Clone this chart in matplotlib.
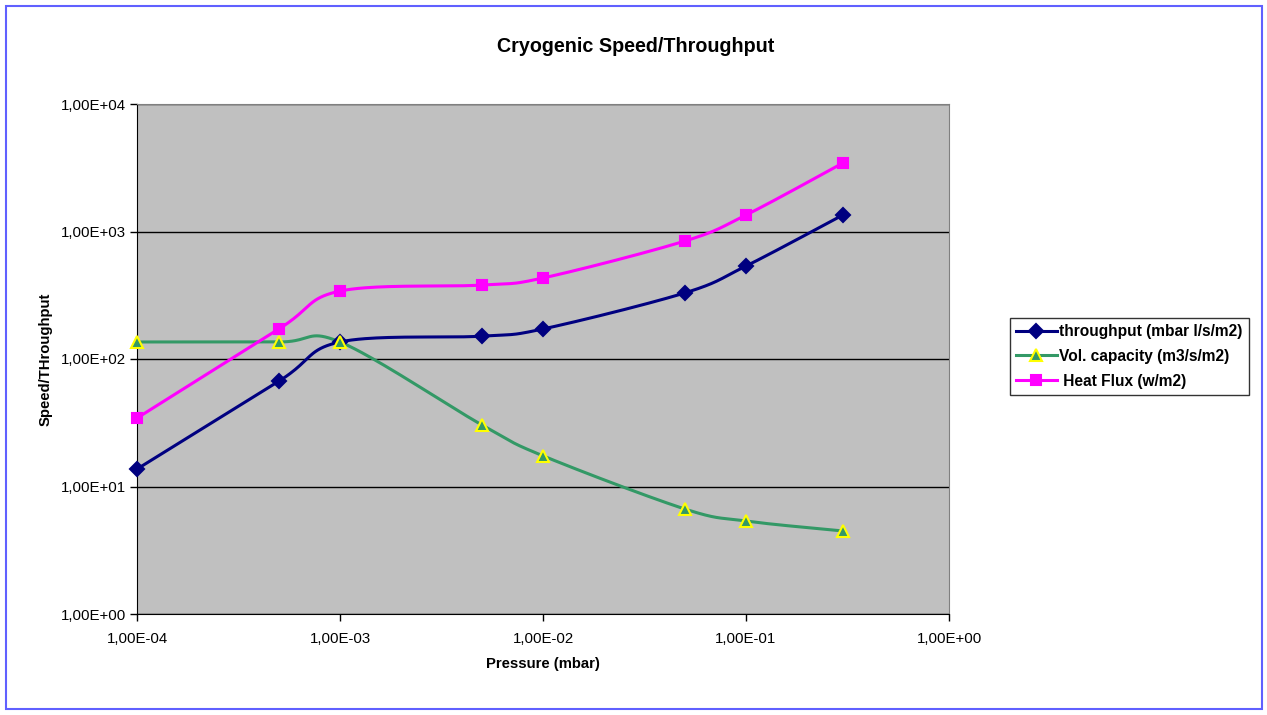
import numpy as np
from matplotlib import pyplot as plt
from matplotlib.lines import Line2D
from matplotlib.patches import Rectangle

# data
pressure = [1e-4, 5e-4, 1e-3, 5e-3, 1e-2, 5e-2, 1e-1, 3e-1]
throughput = [13.7, 67, 136, 151, 172, 330, 536, 1347]
vol_capacity = [136, 136, 136, 30.4, 17.4, 6.66, 5.36, 4.48]
heat_flux = [34.4, 172, 341, 380, 432, 842, 1347, 3445]

x_ticks = [1e-4, 1e-3, 1e-2, 1e-1, 1e0]
x_labels = ["1,00E-04", "1,00E-03", "1,00E-02", "1,00E-01", "1,00E+00"]
y_ticks = [1e0, 1e1, 1e2, 1e3, 1e4]
y_labels = ["1,00E+00", "1,00E+01", "1,00E+02", "1,00E+03", "1,00E+04"]


def smooth(xs, ys, n=40):
    # catmull-rom through the points in log-log space (like Excel's smoothed line)
    lx = np.log10(xs)
    ly = np.log10(ys)
    px = np.concatenate([[lx[0]], lx, [lx[-1]]])
    py = np.concatenate([[ly[0]], ly, [ly[-1]]])
    out_x, out_y = [], []
    t = np.linspace(0, 1, n)
    for i in range(1, len(px) - 2):
        p0, p1, p2, p3 = [np.array([px[j], py[j]]) for j in range(i - 1, i + 3)]
        c1 = p1 + (p2 - p0) / 6
        c2 = p2 - (p3 - p1) / 6
        for tt in t:
            pt = ((1 - tt) ** 3 * p1 + 3 * (1 - tt) ** 2 * tt * c1
                  + 3 * (1 - tt) * tt ** 2 * c2 + tt ** 3 * p2)
            out_x.append(pt[0])
            out_y.append(pt[1])
    return 10 ** np.array(out_x), 10 ** np.array(out_y)


plt.rcParams["font.family"] = ["Liberation Sans", "DejaVu Sans"]

fig = plt.figure(figsize=(12.67, 7.15), dpi=100)
ax = fig.add_axes([137 / 1267, 101 / 715, 812 / 1267, 510 / 715])
ax.set_facecolor("#c0c0c0")

series = [
    (throughput, "#000080", "D", "#000080", "#000080", 7, "throughput (mbar l/s/m2)"),
    (vol_capacity, "#339966", "^", "#339966", "#ffff00", 8, "Vol. capacity (m3/s/m2)"),
    (heat_flux, "#ff00ff", "s", "#ff00ff", "#ff00ff", 7.5, " Heat Flux (w/m2)"),
]

handles = []
for ys, col, mk, fc, ec, ms, lab in series:
    sx, sy = smooth(pressure, ys)
    ax.plot(sx, sy, color=col, lw=2.2, zorder=3)
    ax.plot(pressure, ys, linestyle="none", marker=mk, markersize=ms,
            markerfacecolor=fc, markeredgecolor=ec, markeredgewidth=1.5,
            zorder=4, clip_on=False)
    handles.append(Line2D([], [], color=col, lw=2.2, marker=mk, markersize=ms,
                          markerfacecolor=fc, markeredgecolor=ec, markeredgewidth=1.5))

ax.set_xscale("log")
ax.set_yscale("log")
ax.set_xlim(1e-4, 1e0)
ax.set_ylim(1e0, 1e4)
ax.set_xticks(x_ticks)
ax.set_xticklabels(x_labels)
ax.set_yticks(y_ticks)
ax.set_yticklabels(y_labels)
ax.minorticks_off()
ax.tick_params(direction="out", length=5, width=1, labelsize=10.8)
ax.tick_params(axis="x", pad=8)
ax.tick_params(axis="y", pad=3)
ax.yaxis.grid(True, color="black", lw=1)
ax.set_axisbelow(True)

for s in ["top", "right"]:
    ax.spines[s].set_color("#808080")
for s in ["left", "bottom"]:
    ax.spines[s].set_color("black")

fig.text(636 / 1267, 1 - 46 / 715, "Cryogenic Speed/Throughput", fontsize=14.2,
         fontweight="bold", ha="center", va="center")
ax.set_xlabel("Pressure (mbar)", fontsize=10.7, fontweight="bold", labelpad=8)
ax.set_ylabel("Speed/THroughput", fontsize=10.7, fontweight="bold", labelpad=5.5)

leg = fig.legend(handles=handles, labels=[s[-1] for s in series],
                 loc="upper left", bbox_to_anchor=(1010 / 1267, 1 - 318 / 715),
                 prop={"weight": "bold", "size": 11.2}, frameon=True, fancybox=False,
                 edgecolor="black", handlelength=2.6, handletextpad=0.15,
                 borderpad=0.4, labelspacing=0.62, borderaxespad=0)
leg.get_frame().set_linewidth(1)

fig.patches.append(Rectangle((6 / 1267, 6 / 715), 1256 / 1267, 703 / 715,
                             transform=fig.transFigure, fill=False,
                             edgecolor="#6060ff", lw=1.5))

plt.savefig("out.png", dpi=100)
